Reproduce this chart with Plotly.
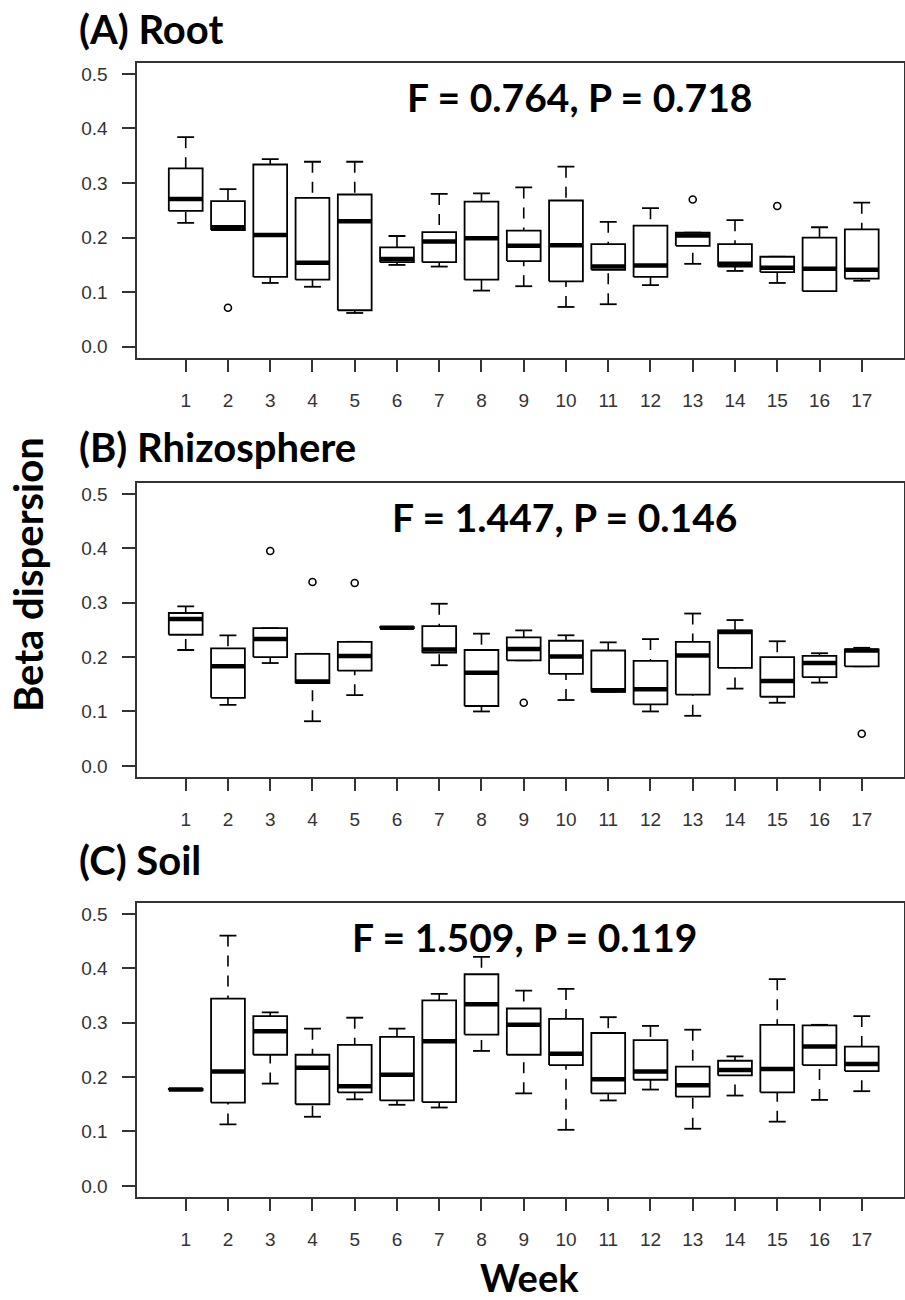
import plotly.graph_objects as go

# ---------------- data ----------------
weeks = list(range(1, 18))
week_labels = [str(w) for w in weeks]
y_ticks = [0.0, 0.1, 0.2, 0.3, 0.4, 0.5]

panel_titles = ["(A) Root", "(B) Rhizosphere", "(C) Soil"]
stat_labels = ["F = 0.764, P = 0.718", "F = 1.447, P = 0.146", "F = 1.509, P = 0.119"]

# (A) Root
root_lower = [0.227, 0.214, 0.117, 0.110, 0.062, 0.150, 0.147, 0.103, 0.111, 0.073, 0.078, 0.113, 0.152, 0.139, 0.117, 0.102, 0.121]
root_q1    = [0.249, 0.214, 0.128, 0.123, 0.067, 0.155, 0.155, 0.123, 0.157, 0.120, 0.141, 0.128, 0.185, 0.147, 0.137, 0.102, 0.125]
root_med   = [0.271, 0.219, 0.205, 0.154, 0.230, 0.161, 0.193, 0.199, 0.185, 0.186, 0.147, 0.149, 0.204, 0.152, 0.145, 0.143, 0.141]
root_q3    = [0.327, 0.267, 0.334, 0.273, 0.279, 0.182, 0.210, 0.266, 0.213, 0.268, 0.188, 0.222, 0.209, 0.188, 0.165, 0.200, 0.215]
root_upper = [0.384, 0.289, 0.344, 0.339, 0.339, 0.203, 0.280, 0.281, 0.292, 0.330, 0.229, 0.254, 0.209, 0.232, 0.165, 0.219, 0.264]
root_out_week = [2, 13, 15]
root_out_val  = [0.0715, 0.270, 0.258]

# (B) Rhizosphere
rhizo_lower = [0.213, 0.112, 0.189, 0.082, 0.130, 0.253, 0.185, 0.100, 0.194, 0.121, 0.136, 0.100, 0.092, 0.142, 0.116, 0.153, 0.183]
rhizo_q1    = [0.241, 0.125, 0.200, 0.152, 0.175, 0.253, 0.208, 0.110, 0.194, 0.169, 0.136, 0.113, 0.131, 0.180, 0.127, 0.163, 0.183]
rhizo_med   = [0.270, 0.183, 0.233, 0.155, 0.202, 0.254, 0.214, 0.171, 0.215, 0.201, 0.139, 0.141, 0.203, 0.246, 0.156, 0.189, 0.212]
rhizo_q3    = [0.281, 0.216, 0.253, 0.206, 0.228, 0.255, 0.257, 0.213, 0.236, 0.230, 0.212, 0.193, 0.228, 0.249, 0.200, 0.202, 0.214]
rhizo_upper = [0.293, 0.240, 0.253, 0.206, 0.228, 0.255, 0.298, 0.243, 0.249, 0.240, 0.227, 0.233, 0.280, 0.268, 0.229, 0.207, 0.217]
rhizo_out_week = [3, 4, 5, 9, 17]
rhizo_out_val  = [0.395, 0.338, 0.336, 0.116, 0.059]

# (C) Soil
soil_lower = [0.177, 0.113, 0.188, 0.127, 0.159, 0.149, 0.144, 0.248, 0.170, 0.103, 0.157, 0.177, 0.105, 0.166, 0.118, 0.158, 0.174]
soil_q1    = [0.176, 0.153, 0.241, 0.150, 0.172, 0.157, 0.154, 0.278, 0.241, 0.222, 0.170, 0.195, 0.164, 0.203, 0.172, 0.222, 0.211]
soil_med   = [0.177, 0.210, 0.284, 0.217, 0.183, 0.204, 0.266, 0.334, 0.296, 0.243, 0.196, 0.210, 0.185, 0.213, 0.215, 0.256, 0.224]
soil_q3    = [0.178, 0.344, 0.312, 0.241, 0.259, 0.274, 0.341, 0.389, 0.326, 0.307, 0.281, 0.268, 0.219, 0.230, 0.296, 0.295, 0.256]
soil_upper = [0.178, 0.460, 0.319, 0.289, 0.309, 0.289, 0.353, 0.421, 0.359, 0.362, 0.310, 0.294, 0.287, 0.238, 0.380, 0.296, 0.312]
soil_out_week = []
soil_out_val  = []

panels = [
    (root_lower, root_q1, root_med, root_q3, root_upper, root_out_week, root_out_val),
    (rhizo_lower, rhizo_q1, rhizo_med, rhizo_q3, rhizo_upper, rhizo_out_week, rhizo_out_val),
    (soil_lower, soil_q1, soil_med, soil_q3, soil_upper, soil_out_week, soil_out_val),
]

# ---------------- layout geometry (pixels) ----------------
W, H = 905, 1300
plot_left, plot_right = 136.5, 904
panel_tops = [62.7, 482.7, 902.7]
panel_bottoms = [358.0, 777.0, 1197.0]
title_y = [29, 447, 860]
stat_x = [405, 390, 350]
stat_y = [97, 517, 937]

BOXW = 0.4
STAPLE = 0.2
INK = "black"
AXIS_COL = "#333333"

fig = go.Figure()

for k, (lo, q1, md, q3, up, ow, ov) in enumerate(panels):
    xa = "x" if k == 0 else f"x{k+1}"
    ya = "y" if k == 0 else f"y{k+1}"
    bx, by, mx, my, wx, wy, sx, sy = [], [], [], [], [], [], [], []
    for w, a, m, b, l, u in zip(weeks, q1, md, q3, lo, up):
        bx += [w - BOXW, w + BOXW, w + BOXW, w - BOXW, w - BOXW, None]
        by += [a, a, b, b, a, None]
        mx += [w - BOXW, w + BOXW, None]
        my += [m, m, None]
        if u > b:
            wx += [w, w, None]
            wy += [u, b, None]
        if l < a:
            wx += [w, w, None]
            wy += [l, a, None]
        sx += [w - STAPLE, w + STAPLE, None, w - STAPLE, w + STAPLE, None]
        sy += [u, u, None, l, l, None]
    fig.add_trace(go.Scatter(x=wx, y=wy, mode="lines", xaxis=xa, yaxis=ya,
                             line=dict(color=INK, width=1.6, dash="11px,9px"),
                             showlegend=False, hoverinfo="skip"))
    fig.add_trace(go.Scatter(x=sx, y=sy, mode="lines", xaxis=xa, yaxis=ya,
                             line=dict(color=INK, width=1.8),
                             showlegend=False, hoverinfo="skip"))
    fig.add_trace(go.Scatter(x=bx, y=by, mode="lines", xaxis=xa, yaxis=ya,
                             line=dict(color=INK, width=1.8),
                             fill="toself", fillcolor="white",
                             showlegend=False, hoverinfo="skip"))
    fig.add_trace(go.Scatter(x=mx, y=my, mode="lines", xaxis=xa, yaxis=ya,
                             line=dict(color=INK, width=4.5),
                             showlegend=False, hoverinfo="skip"))
    if ow:
        fig.add_trace(go.Scatter(x=ow, y=ov, mode="markers", xaxis=xa, yaxis=ya,
                                 marker=dict(symbol="circle-open", size=7,
                                             color=INK, line=dict(width=1.6, color=INK)),
                                 showlegend=False, hoverinfo="skip"))

    dom_y = [1 - panel_bottoms[k] / H, 1 - panel_tops[k] / H]
    axis_common = dict(showline=True, linecolor=AXIS_COL, linewidth=2, mirror=True,
                       showgrid=False, zeroline=False, ticks="outside",
                       tickcolor=AXIS_COL, tickwidth=1.5,
                       tickfont=dict(family="Liberation Sans, Arial", size=19, color="#333333"))
    fig.update_layout(**{
        ("xaxis" if k == 0 else f"xaxis{k+1}"): dict(
            domain=[plot_left / W, plot_right / W], anchor=ya,
            range=[-0.165, 18.0], tickmode="array", tickvals=weeks, ticktext=week_labels,
            ticklen=12, ticklabelstandoff=12, **axis_common),
        ("yaxis" if k == 0 else f"yaxis{k+1}"): dict(
            domain=dom_y, anchor=xa, range=[-0.0205, 0.5205],
            tickmode="array", tickvals=y_ticks, ticktext=[f"{v:.1f}" for v in y_ticks],
            ticklen=13, ticklabelstandoff=10, **axis_common),
    })

    fig.add_annotation(text=panel_titles[k], xref="paper", yref="paper",
                       x=77 / W, y=1 - title_y[k] / H, xanchor="left", yanchor="middle",
                       showarrow=False,
                       font=dict(family="Lato", size=40, color="black", weight="bold"))
    fig.add_annotation(text=stat_labels[k], xref="paper", yref="paper",
                       x=stat_x[k] / W, y=1 - stat_y[k] / H, xanchor="left", yanchor="middle",
                       showarrow=False,
                       font=dict(family="Lato", size=39, color="black", weight="bold"))

fig.add_annotation(text="Beta dispersion", xref="paper", yref="paper",
                   x=28 / W, y=1 - 575 / H, xanchor="center", yanchor="middle",
                   textangle=-90, showarrow=False,
                   font=dict(family="Lato", size=40, color="black", weight="bold"))
fig.add_annotation(text="Week", xref="paper", yref="paper",
                   x=529 / W, y=1 - 1277 / H, xanchor="center", yanchor="middle",
                   showarrow=False,
                   font=dict(family="Lato", size=38, color="black", weight="bold"))

fig.update_layout(width=W, height=H, margin=dict(l=0, r=0, t=0, b=0),
                  paper_bgcolor="white", plot_bgcolor="white", showlegend=False)

fig.write_html("out.html")
